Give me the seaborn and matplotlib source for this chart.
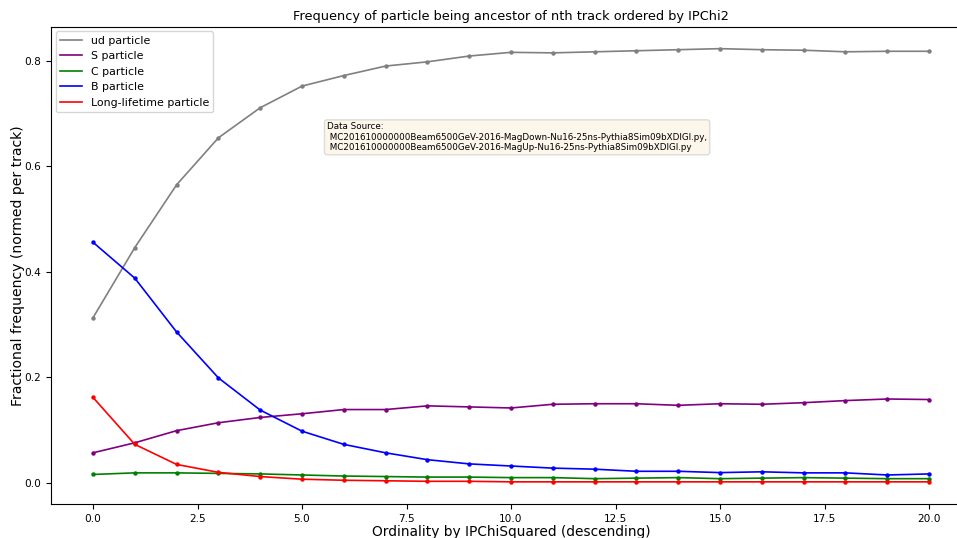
import matplotlib
matplotlib.use("Agg")
import matplotlib.pyplot as plt
from matplotlib.lines import Line2D
import seaborn as sns
import pandas as pd
import numpy as np

ordinality = list(range(21))
ud_particle = [0.313, 0.446, 0.565, 0.654, 0.711, 0.752, 0.772, 0.790, 0.798, 0.809,
               0.816, 0.815, 0.817, 0.819, 0.821, 0.823, 0.821, 0.820, 0.817, 0.818, 0.818]
s_particle = [0.057, 0.076, 0.099, 0.114, 0.124, 0.131, 0.139, 0.139, 0.146, 0.144,
              0.142, 0.149, 0.150, 0.150, 0.147, 0.150, 0.149, 0.152, 0.156, 0.159, 0.158]
c_particle = [0.016, 0.019, 0.019, 0.018, 0.017, 0.015, 0.013, 0.012, 0.011, 0.011,
              0.010, 0.010, 0.008, 0.009, 0.010, 0.008, 0.009, 0.010, 0.009, 0.008, 0.008]
b_particle = [0.456, 0.388, 0.286, 0.199, 0.138, 0.098, 0.073, 0.057, 0.044, 0.036,
              0.032, 0.028, 0.026, 0.022, 0.022, 0.0195, 0.021, 0.019, 0.019, 0.015, 0.017]
long_lifetime = [0.162, 0.073, 0.035, 0.020, 0.012, 0.007, 0.005, 0.004, 0.003, 0.003,
                 0.002, 0.002, 0.002, 0.002, 0.002, 0.002, 0.002, 0.002, 0.002, 0.002, 0.002]

labels = ["ud particle", "S particle", "C particle", "B particle", "Long-lifetime particle"]
colors = ["grey", "purple", "green", "blue", "red"]
series = [ud_particle, s_particle, c_particle, b_particle, long_lifetime]

title = "Frequency of particle being ancestor of nth track ordered by IPChi2"
xlabel = "Ordinality by IPChiSquared (descending)"
ylabel = "Fractional frequency (normed per track)"
source_text = ("Data Source:\n"
               " MC201610000000Beam6500GeV-2016-MagDown-Nu16-25ns-Pythia8Sim09bXDIGI.py,\n"
               " MC201610000000Beam6500GeV-2016-MagUp-Nu16-25ns-Pythia8Sim09bXDIGI.py")

rows = []
for lab, vals in zip(labels, series):
    for x, v in zip(ordinality, vals):
        rows.append({"ordinality": x, "value": v, "particle": lab})
df = pd.DataFrame(rows)

plt.rcParams['font.family'] = ['DejaVu Sans']
fig = plt.figure(figsize=(9.57, 5.38), dpi=100)
ax = fig.add_axes([0.0535, 0.0632, 0.961, 0.8866])

sns.lineplot(data=df, x="ordinality", y="value", hue="particle", hue_order=labels,
             palette=colors, marker="o", markersize=3.2, markeredgewidth=0,
             linewidth=1.2, legend=False, ax=ax)

ax.set_xlim(-1.0, 21.0)
ax.set_ylim(-0.040, 0.864)
ax.spines['right'].set_visible(False)
ax.set_title(title, fontsize=9.3, pad=5)
ax.set_xlabel(xlabel, fontsize=9.9, labelpad=1)
ax.set_ylabel(ylabel, fontsize=10.1, labelpad=-0.5)
ax.tick_params(labelsize=7.6)
ax.set_xticks([0, 2.5, 5, 7.5, 10, 12.5, 15, 17.5, 20])
ax.set_yticks([0.0, 0.2, 0.4, 0.6, 0.8])

handles = [Line2D([0], [0], color=c, lw=1.2) for c in colors]
ax.legend(handles, labels, loc="upper left", fontsize=7.9, borderaxespad=0.4)

ax.text(0.3, 0.8, source_text, transform=ax.transAxes, fontsize=6.3, va="top", ha="left",
        bbox=dict(boxstyle="round", facecolor="wheat", alpha=0.25, edgecolor="grey"))

fig.savefig("out.png", dpi=100)
